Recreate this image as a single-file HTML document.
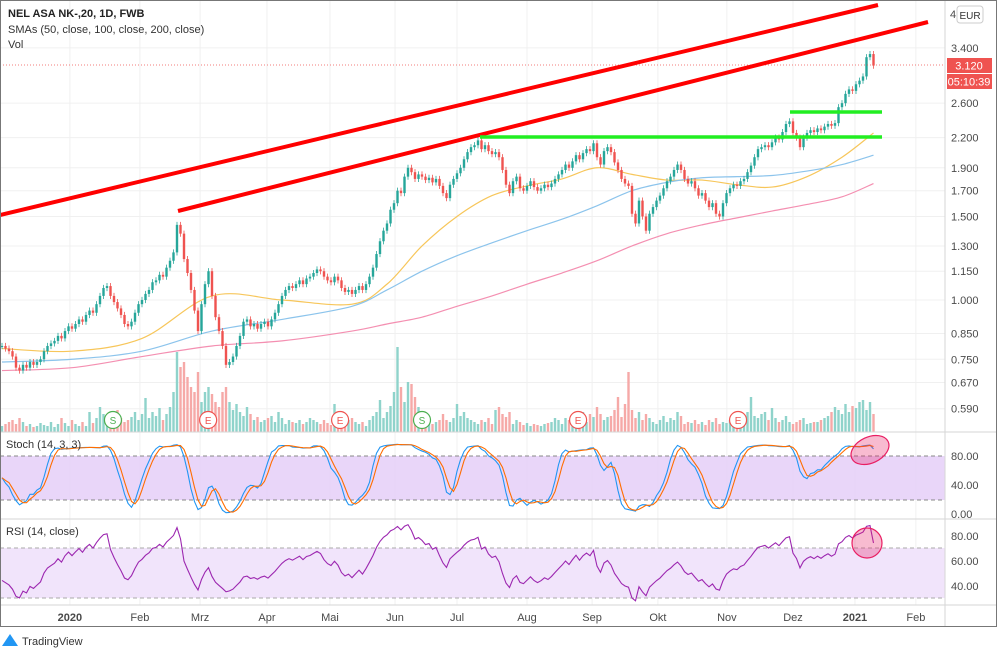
<!DOCTYPE html>
<html><head><meta charset="utf-8"><style>
html,body{margin:0;padding:0;background:#fff;width:1000px;height:656px;overflow:hidden}
svg{display:block;font-family:"Liberation Sans",sans-serif}
.ax{font-size:11px;fill:#4a4a4a}
</style></head><body>
<svg id="c" width="1000" height="656" viewBox="0 0 1000 656">
<rect x="0" y="0" width="1000" height="656" fill="#fff"/>
<g id="grid"></g>
<rect x="0" y="456" width="945" height="44" fill="#e5cff8" opacity="0.85"/>
<line x1="0" y1="456" x2="945" y2="456" stroke="#888" stroke-dasharray="4,3"/>
<line x1="0" y1="500" x2="945" y2="500" stroke="#888" stroke-dasharray="4,3"/>
<rect x="0" y="548" width="945" height="50" fill="#f1e4fb"/>
<line x1="0" y1="548" x2="945" y2="548" stroke="#aaa" stroke-dasharray="4,3"/>
<line x1="0" y1="598" x2="945" y2="598" stroke="#aaa" stroke-dasharray="4,3"/>
<g id="vol"></g><g id="sma"></g><g id="cand"></g><g id="ind"></g>
<line x1="0" y1="65" x2="945" y2="65" stroke="#ef5350" stroke-width="0.8" stroke-dasharray="1,2"/>
<line x1="0" y1="215" x2="878" y2="5" stroke="#f00" stroke-width="4"/>
<line x1="178" y1="211" x2="928" y2="22" stroke="#f00" stroke-width="4"/>
<line x1="480" y1="137" x2="882" y2="137" stroke="#22ee22" stroke-width="3.5"/>
<line x1="790" y1="112" x2="882" y2="112" stroke="#22ee22" stroke-width="3.5"/>
<ellipse cx="870" cy="450" rx="20" ry="13" transform="rotate(-25 870 450)" fill="#e91e63" fill-opacity="0.3" stroke="#e91e63" stroke-width="1.2"/>
<circle cx="867" cy="543" r="15" fill="#e91e63" fill-opacity="0.3" stroke="#e91e63" stroke-width="1.2"/>
<g id="ev"></g>
<line x1="0" y1="432" x2="997" y2="432" stroke="#d6d6d6"/>
<line x1="0" y1="519" x2="997" y2="519" stroke="#d6d6d6"/>
<line x1="0" y1="605" x2="997" y2="605" stroke="#d6d6d6"/>
<line x1="945" y1="0" x2="945" y2="626" stroke="#d6d6d6"/>
<rect x="0.5" y="0.5" width="996" height="626" fill="none" stroke="#777"/>
<g id="axes"></g>
<text x="8" y="17" font-size="11" font-weight="bold" fill="#222">NEL ASA NK-,20, 1D, FWB</text>
<text x="8" y="33" font-size="11" fill="#333">SMAs (50, close, 100, close, 200, close)</text>
<text x="8" y="48" font-size="11" fill="#333">Vol</text>
<text x="6" y="448" font-size="11" fill="#333">Stoch (14, 3, 3)</text>
<text x="6" y="535" font-size="11" fill="#333">RSI (14, close)</text>
<rect x="957" y="6" width="26" height="17" rx="3" fill="#fff" stroke="#ccc"/>
<text x="970" y="19" font-size="10" fill="#333" text-anchor="middle">EUR</text>
<text x="950" y="18" class="ax">4</text>
<rect x="947" y="58" width="45" height="15" fill="#ef5350"/>
<text x="969" y="69.5" font-size="11" fill="#fff" text-anchor="middle">3.120</text>
<rect x="947" y="74" width="45" height="15" fill="#ef5350"/>
<text x="969" y="85.5" font-size="11" fill="#fff" text-anchor="middle">05:10:39</text>
<g>
<path d="M2 646 L10 634 L18 646 Z" fill="#2196f3"/>
<text x="22" y="645" font-size="11" fill="#333">TradingView</text></g>
</svg>
<script>
const closes=[0.80,0.79,0.78,0.76,0.72,0.71,0.73,0.72,0.74,0.73,0.74,0.75,0.78,0.80,0.81,0.82,0.84,0.83,0.86,0.88,0.87,0.89,0.91,0.90,0.93,0.95,0.94,0.98,1.02,1.06,1.07,1.02,0.99,0.96,0.93,0.89,0.88,0.90,0.94,0.98,1.00,1.03,1.05,1.09,1.10,1.13,1.12,1.17,1.21,1.26,1.44,1.38,1.22,1.14,1.05,0.95,0.86,0.98,1.08,1.15,1.02,0.92,0.86,0.80,0.73,0.74,0.76,0.80,0.84,0.90,0.91,0.88,0.89,0.87,0.89,0.90,0.88,0.91,0.94,0.98,1.02,1.05,1.07,1.06,1.08,1.10,1.08,1.11,1.12,1.14,1.16,1.15,1.12,1.10,1.09,1.12,1.10,1.06,1.04,1.05,1.03,1.05,1.07,1.05,1.08,1.12,1.17,1.25,1.33,1.40,1.45,1.55,1.60,1.70,1.68,1.82,1.90,1.86,1.80,1.84,1.82,1.79,1.81,1.77,1.80,1.74,1.68,1.64,1.75,1.80,1.85,1.90,1.98,2.05,2.10,2.12,2.17,2.08,2.12,2.06,2.03,2.05,2.00,1.88,1.75,1.68,1.78,1.82,1.72,1.70,1.74,1.78,1.73,1.70,1.72,1.75,1.73,1.76,1.80,1.84,1.88,1.93,1.90,1.96,2.02,1.98,2.04,2.08,2.06,2.14,2.00,1.93,2.06,2.10,2.05,1.95,1.88,1.80,1.76,1.74,1.52,1.45,1.62,1.50,1.40,1.52,1.57,1.62,1.66,1.72,1.78,1.82,1.88,1.93,1.88,1.80,1.76,1.78,1.72,1.66,1.68,1.62,1.57,1.60,1.52,1.50,1.60,1.68,1.72,1.75,1.74,1.78,1.80,1.86,1.92,2.00,2.08,2.10,2.12,2.10,2.15,2.20,2.18,2.26,2.35,2.38,2.25,2.20,2.10,2.20,2.25,2.28,2.26,2.30,2.28,2.32,2.35,2.33,2.36,2.55,2.60,2.72,2.78,2.76,2.85,2.90,2.96,3.25,3.30,3.12];
const volumes=[6,8,10,12,8,14,10,6,8,5,6,9,7,6,10,5,8,14,9,6,12,8,6,10,6,20,9,14,25,18,12,16,10,22,14,10,12,15,20,12,18,34,14,20,16,24,12,18,25,40,80,65,70,55,45,40,60,30,40,45,38,30,25,40,45,30,22,28,20,16,25,18,12,15,10,12,14,16,10,20,14,8,12,10,9,12,8,10,14,12,10,8,12,9,7,28,15,10,8,12,14,10,8,10,6,12,16,20,32,14,20,26,40,85,45,30,50,48,35,25,16,12,10,8,10,12,18,12,10,14,28,16,20,14,12,10,8,12,10,14,8,22,25,18,15,20,8,12,10,7,9,6,8,7,6,8,9,10,14,12,8,14,12,10,16,14,20,10,18,15,25,18,12,15,16,22,35,15,28,60,22,14,20,12,18,14,10,8,12,16,10,14,12,20,16,8,10,9,12,8,10,7,12,10,14,8,10,9,12,8,10,12,14,20,35,16,14,18,20,12,24,14,10,12,16,10,8,10,12,14,8,9,10,10,12,14,16,20,25,22,18,28,20,26,24,30,32,22,30,18];
const smaIdx=[0,20,40,60,80,100,110,120,130,140,150,160,170,180,190,200,210,220,230,240,249];
const sma50=[0.79,0.78,0.83,1.02,1.00,0.98,1.08,1.30,1.50,1.66,1.74,1.80,1.90,1.84,1.79,1.79,1.75,1.73,1.82,2.00,2.25];
const sma100=[0.74,0.75,0.78,0.86,0.91,0.97,1.05,1.15,1.24,1.32,1.40,1.48,1.58,1.70,1.77,1.81,1.82,1.83,1.87,1.93,2.02];
const sma200=[0.71,0.72,0.76,0.80,0.82,0.86,0.89,0.92,0.97,1.02,1.08,1.14,1.21,1.30,1.38,1.44,1.49,1.54,1.59,1.65,1.76];
const priceTicks=["3.400","2.600","2.200","1.900","1.700","1.500","1.300","1.150","1.000","0.850","0.750","0.670","0.590"];
const months=["2020","Feb","Mrz","Apr","Mai","Jun","Jul","Aug","Sep","Okt","Nov","Dez","2021","Feb"];
const monthIdx=[19.4,39.4,56.6,75.7,93.7,112.3,130,150,168.6,187.4,207.1,226,243.7,261.1];
const events=["S","E","E","S","E","E"];
const eventIdx=[31.7,58.9,96.6,120,164.6,210.3];
const eventColor=["g","r","r","g","r","r"];
const stochTicks=[80,40,0];
const rsiTicks=[80,60,40];

const NS="http://www.w3.org/2000/svg";
function mk(tag,attrs,parent){const e=document.createElementNS(NS,tag);for(const k in attrs)e.setAttribute(k,attrs[k]);parent.appendChild(e);return e;}
const X=i=>2+i*3.5;
const Y=p=>300-206*Math.log(p);
const YS=v=>514-v*0.725;
const YR=v=>586-(v-40)*1.25;
const G=id=>document.getElementById(id);
function smooth(pts){let d='M'+pts[0][0]+','+pts[0][1];
for(let i=0;i<pts.length-1;i++){const p0=pts[Math.max(0,i-1)],p1=pts[i],p2=pts[i+1],p3=pts[Math.min(pts.length-1,i+2)];
d+=' C'+(p1[0]+(p2[0]-p0[0])/6)+','+(p1[1]+(p2[1]-p0[1])/6)+' '+(p2[0]-(p3[0]-p1[0])/6)+','+(p2[1]-(p3[1]-p1[1])/6)+' '+p2[0]+','+p2[1];}
return d;}

const grid=G('grid');
monthIdx.forEach(m=>{const l=mk('line',{x1:X(m),x2:X(m),y1:0,y2:605,stroke:'#f0f0f0'},grid);

});
const axes=G('axes');
priceTicks.forEach(t=>{const y=Y(parseFloat(t));
const l=mk('line',{x1:0,x2:945,y1:y,y2:y,stroke:'#f0f0f0'},grid);


const tx=mk('text',{x:951,y:y+4,class:'ax'},axes);tx.textContent=t;

});
stochTicks.forEach(v=>{const tx=mk('text',{x:951,y:YS(v)+4,class:'ax'},axes);tx.textContent=v.toFixed(2);

});
rsiTicks.forEach(v=>{const tx=mk('text',{x:951,y:YR(v)+4,class:'ax'},axes);tx.textContent=v.toFixed(2);

});
months.forEach((m,k)=>{const tx=mk('text',{x:X(monthIdx[k]),y:621,class:'ax','text-anchor':'middle','font-weight':/^20/.test(m)?'bold':'normal'},axes);tx.textContent=m;

});

const opens=closes.map((c,i)=>i?closes[i-1]:c);
const highs=closes.map((c,i)=>Math.max(c,opens[i])*1.015);
const lows=closes.map((c,i)=>Math.min(c,opens[i])*0.985);
const cg=G('cand'),vg=G('vol');
closes.forEach((c,i)=>{const o=opens[i],up=c>=o,col=up?'#26a69a':'#ef5350',x=X(i);
const w=mk('line',{x1:x,x2:x,y1:Y(highs[i]),y2:Y(lows[i]),stroke:col,'stroke-width':0.8},cg);


const t=Y(Math.max(o,c)),b=Y(Math.min(o,c));
const r=mk('rect',{x:x-1.2,y:t,width:2.4,height:Math.max(1,b-t),fill:col},cg);


const v=volumes[i]||0;
const vb=mk('rect',{x:x-1.2,y:432-v,width:2.4,height:v,fill:up?'#8fd3cb':'#f6a9a7'},vg);

});

const sg=G('sma');
[[sma50,'#f7c65a','sma-50'],[sma100,'#8cc4ec','sma-100'],[sma200,'#f48fb1','sma-200']].forEach(([arr,col,nm])=>{
const p=mk('path',{d:smooth(arr.map((v,k)=>[X(smaIdx[k]),Y(v)])),fill:'none',stroke:col,'stroke-width':1.2},sg);

});

const raw=closes.map((c,i)=>{const s=Math.max(0,i-13);const hh=Math.max(...highs.slice(s,i+1)),ll=Math.min(...lows.slice(s,i+1));return hh>ll?100*(c-ll)/(hh-ll):50;});
const sm=a=>a.map((v,i)=>{const s=a.slice(Math.max(0,i-2),i+1);return s.reduce((x,y)=>x+y,0)/s.length;});
const K=sm(raw),D=sm(K);
const ig=G('ind');
const pk=mk('polyline',{points:K.map((v,i)=>X(i)+','+YS(v)).join(' '),fill:'none',stroke:'#2196f3','stroke-width':1.1},ig);


const pd=mk('polyline',{points:D.map((v,i)=>X(i)+','+YS(v)).join(' '),fill:'none',stroke:'#ff6d00','stroke-width':1.1},ig);



let ag=0.008,al=0.01;const rsi=[];
closes.forEach((c,i)=>{if(i===0){rsi.push(100-100/(1+ag/al));return;}const ch=c-closes[i-1];const g=Math.max(ch,0),l=Math.max(-ch,0);
ag=(ag*13+g)/14;al=(al*13+l)/14;rsi.push(al===0?100:100-100/(1+ag/al));});
const pr=mk('polyline',{points:rsi.map((v,i)=>X(i)+','+YR(v)).join(' '),fill:'none',stroke:'#9c27b0','stroke-width':1.1},ig);



const eg=G('ev');
events.forEach((e,k)=>{const x=X(eventIdx[k]),col=eventColor[k]==='g'?'#4caf50':'#ef5350';
const c=mk('circle',{cx:x,cy:420,r:8.5,fill:'#fff',stroke:col,'stroke-width':1.2},eg);


const t=mk('text',{x:x,y:424,'font-size':10,fill:col,'text-anchor':'middle'},eg);t.textContent=e;

});
</script>
</body></html>
